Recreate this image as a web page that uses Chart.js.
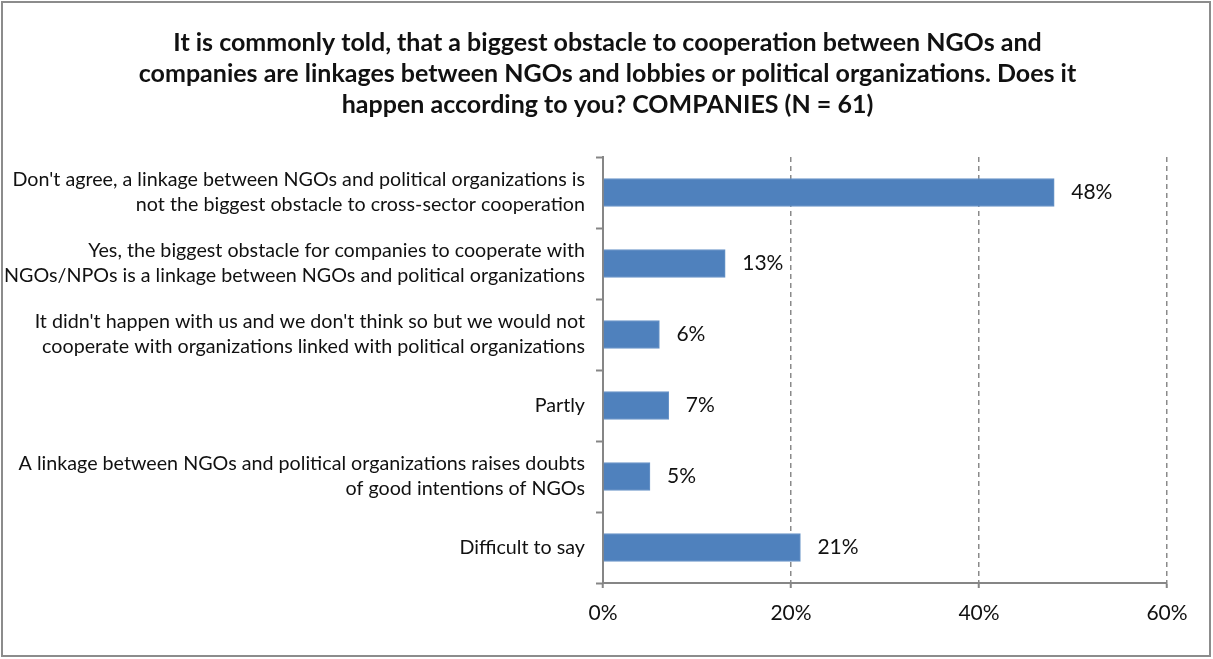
<!DOCTYPE html>
<html>
<head>
<meta charset="utf-8">
<script src="https://cdn.jsdelivr.net/npm/chart.js@4"></script>
<style>
  html, body { margin: 0; padding: 0; background: #fff; }
  #wrap { width: 1213px; height: 659px; }
</style>
</head>
<body>
<div id="wrap"><canvas id="ngoChart" width="1213" height="659"></canvas></div>
<script>
const titleLines = [
  'It is commonly told, that a biggest obstacle to cooperation between NGOs and',
  'companies are linkages between NGOs and lobbies or political organizations. Does it',
  'happen according to you? COMPANIES (N = 61)'
];
const categories = [
  ["Don't agree, a linkage between NGOs and political organizations is", 'not the biggest obstacle to cross-sector cooperation'],
  ['Yes, the biggest obstacle for companies to cooperate with', 'NGOs/NPOs is a linkage between NGOs and political organizations'],
  ["It didn't happen with us and we don't think so but we would not", 'cooperate with organizations linked with political organizations'],
  'Partly',
  ['A linkage between NGOs and political organizations raises doubts', 'of good intentions of NGOs'],
  'Difficult to say'
];
const values = [48, 13, 6, 7, 5, 21];
const xTicks = [0, 20, 40, 60];

const frame = {
  id: 'frame',
  beforeDraw(chart) {
    const c = chart.ctx;
    c.save();
    c.fillStyle = '#fff';
    c.fillRect(0, 0, chart.width, chart.height);
    c.strokeStyle = '#8c8c8c';
    c.lineWidth = 2;
    c.strokeRect(2, 2, chart.width - 5, chart.height - 5);
    c.restore();
  },
  // the title in the original sits a bit right of the plot's own centre
  afterLayout(chart) {
    const t = chart.titleBlock;
    if (t) { t.left += 22; t.right += 22; }
  }
};

const valueLabels = {
  id: 'valueLabels',
  afterDatasetsDraw(chart) {
    const c = chart.ctx;
    const meta = chart.getDatasetMeta(0);
    c.save();
    c.font = '21px Lato';
    c.fillStyle = '#111';
    c.textBaseline = 'middle';
    meta.data.forEach((bar, i) => {
      c.fillText(values[i] + '%', bar.x + 17, bar.y);
    });
    c.restore();
  }
};

const ctx = document.getElementById('ngoChart').getContext('2d');

new Chart(ctx, {
  type: 'bar',
  data: {
    labels: categories,
    datasets: [{
      data: values,
      backgroundColor: '#4f81bd',
      borderColor: '#6b96c9',
      borderWidth: 1,
      barThickness: 28
    }]
  },
  plugins: [frame, valueLabels],
  options: {
    indexAxis: 'y',
    responsive: false,
    animation: false,
    layout: {
      padding: { top: 27, left: 4, right: 46, bottom: 0 }
    },
    plugins: {
      legend: { display: false },
      tooltip: { enabled: false },
      title: {
        display: true,
        text: titleLines,
        color: '#111',
        font: { family: 'Lato', size: 25, weight: 'bold', lineHeight: 1.24 },
        padding: { top: 0, bottom: 37 }
      }
    },
    scales: {
      x: {
        min: 0,
        max: 60,
        afterBuildTicks(scale) {
          scale.ticks = xTicks.map(v => ({ value: v }));
        },
        afterFit(scale) { scale.height = 659 - 583; },
        border: { display: true, color: '#868686', width: 2, dash: [5, 4] },
        grid: {
          color: '#8a8a8a',
          lineWidth: 1.5,
          tickLength: 5,
          tickColor: '#868686',
          tickWidth: 2,
          tickBorderDash: []
        },
        ticks: {
          padding: 13,
          color: '#111',
          font: { family: 'Lato', size: 21 },
          callback: v => v + '%'
        }
      },
      y: {
        afterFit(scale) { scale.width = 603 - 4; },
        border: { display: true, color: '#868686', width: 2 },
        grid: {
          offset: true,
          drawOnChartArea: false,
          tickLength: 7,
          tickColor: '#868686',
          tickWidth: 2
        },
        ticks: {
          padding: 11,
          color: '#111',
          font: { family: 'Lato', size: 19.7, lineHeight: 1.27 }
        }
      }
    }
  }
});
</script>
</body>
</html>
